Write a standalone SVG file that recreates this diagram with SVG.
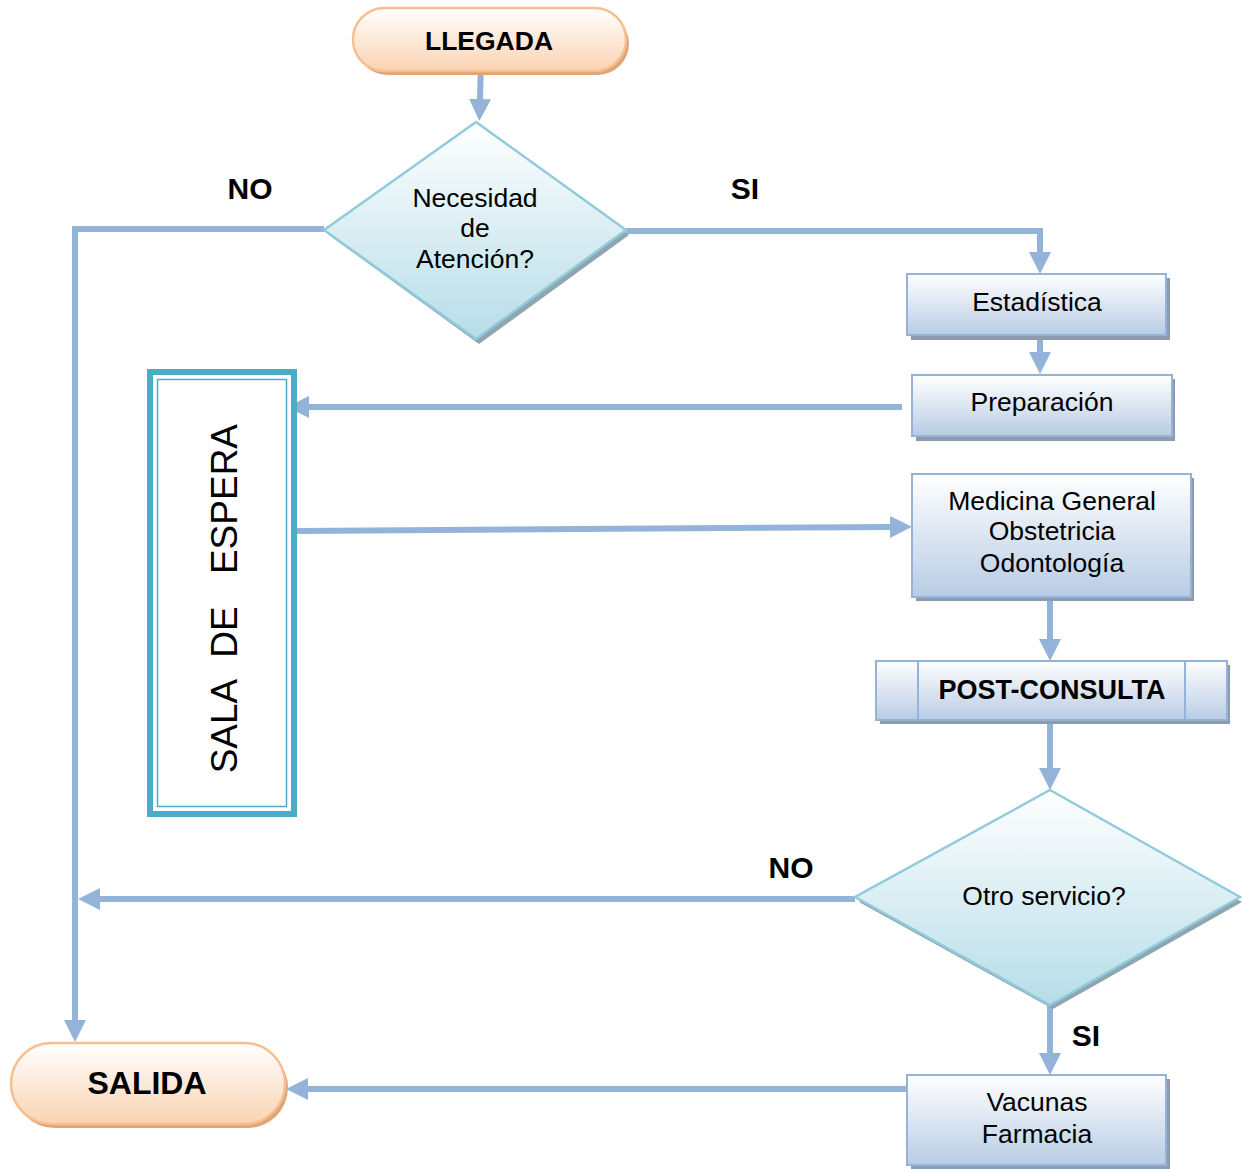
<svg xmlns="http://www.w3.org/2000/svg" width="1242" height="1169" viewBox="0 0 1242 1169">
<defs>
  <linearGradient id="gPill" x1="0" y1="0" x2="0" y2="1">
    <stop offset="0" stop-color="#FFFFFF"/>
    <stop offset="1" stop-color="#FAD3B2"/>
  </linearGradient>
  <linearGradient id="gBox" x1="0" y1="0" x2="0" y2="1">
    <stop offset="0" stop-color="#FFFFFF"/>
    <stop offset="1" stop-color="#B8CCE4"/>
  </linearGradient>
  <linearGradient id="gDia" x1="0" y1="0" x2="0" y2="1">
    <stop offset="0" stop-color="#FFFFFF"/>
    <stop offset="1" stop-color="#B6DDE8"/>
  </linearGradient>
  <marker id="ah" markerUnits="userSpaceOnUse" markerWidth="24" markerHeight="24" viewBox="0 0 24 24" refX="0" refY="12" orient="auto">
    <path d="M0,1 L22,12 L0,23 Z" fill="#94B3D8"/>
  </marker>
  <style>
    .con{fill:none;stroke:#94B3D8;stroke-width:6}
    .pill{fill:url(#gPill);stroke:#F9BE8E;stroke-width:2.5}
    .pillsh{fill:#DDA57A}
    .box{fill:url(#gBox);stroke:#95B3D7;stroke-width:2}
    .boxsh{fill:#8C9BAE}
    .dia{fill:url(#gDia);stroke:#8FCBDA;stroke-width:2.5}
    .diash{fill:#8FA5B0}
    .t{font-family:"Liberation Sans",Arial,sans-serif;fill:#000;text-anchor:middle}
    .n{font-size:26.5px}
    .b{font-weight:bold}
    .lab{font-weight:bold;font-size:30px}
  </style>
</defs>

<g id="connectors">
  <path class="con" d="M481,62 L480,99" marker-end="url(#ah)"/>
  <path class="con" d="M324,229 L75,229 L75,1020" marker-end="url(#ah)"/>
  <path class="con" d="M626,231 L1040,231 L1040,252" marker-end="url(#ah)"/>
  <path class="con" d="M1040,338 L1040,352" marker-end="url(#ah)"/>
  <path class="con" d="M902,407 L309,407" marker-end="url(#ah)"/>
  <path class="con" d="M297,531 L890,527" marker-end="url(#ah)"/>
  <path class="con" d="M1050,598 L1050,639" marker-end="url(#ah)"/>
  <path class="con" d="M1050,722 L1050,768" marker-end="url(#ah)"/>
  <path class="con" d="M855,899 L100,899" marker-end="url(#ah)"/>
  <path class="con" d="M1050,1005 L1050,1053" marker-end="url(#ah)"/>
  <path class="con" d="M907,1089 L308,1089" marker-end="url(#ah)"/>
</g>

<g id="llegada">
  <rect class="pillsh" x="356" y="12" width="273" height="63" rx="31.5"/>
  <rect class="pill" x="353" y="8" width="273" height="63" rx="31.5"/>
  <text class="t b" x="489" y="49.5" font-size="26.5">LLEGADA</text>
</g>

<g id="necesidad">
  <polygon class="diash" points="479,126 629,235 479,344 329,235"/>
  <polygon class="dia" points="476,122 626,230 476,339 324,230"/>
  <text class="t n" x="475" y="206.5">Necesidad</text>
  <text class="t n" x="475" y="237">de</text>
  <text class="t n" x="475" y="268">Atención?</text>
</g>

<g id="estadistica">
  <rect class="boxsh" x="911" y="278" width="259" height="62"/>
  <rect class="box" x="907" y="274" width="259" height="61"/>
  <text class="t n" x="1037" y="311">Estadística</text>
</g>

<g id="preparacion">
  <rect class="boxsh" x="916" y="379" width="259" height="62"/>
  <rect class="box" x="912" y="375" width="260" height="61"/>
  <text class="t n" x="1042" y="411">Preparación</text>
</g>

<g id="sala">
  <rect x="150" y="372" width="144" height="442" fill="#FFFFFF" stroke="#4BACC6" stroke-width="6"/>
  <rect x="157.5" y="379.5" width="129" height="427" fill="none" stroke="#4BACC6" stroke-width="1.5"/>
  <g class="t" font-size="37">
    <text x="0" y="0" transform="translate(237,726) rotate(-90)">SALA</text>
    <text x="0" y="0" transform="translate(237,632) rotate(-90)">DE</text>
    <text x="0" y="0" transform="translate(237,499) rotate(-90)">ESPERA</text>
  </g>
</g>

<g id="medicina">
  <rect class="boxsh" x="916" y="478" width="278" height="123"/>
  <rect class="box" x="912" y="474" width="279" height="123"/>
  <text class="t n" x="1052" y="510">Medicina General</text>
  <text class="t n" x="1052" y="540">Obstetricia</text>
  <text class="t n" x="1052" y="572">Odontología</text>
</g>

<g id="postconsulta">
  <rect class="boxsh" x="880" y="665" width="350" height="59"/>
  <rect class="box" x="876" y="661" width="351" height="59"/>
  <line x1="918" y1="661" x2="918" y2="720" stroke="#95B3D7" stroke-width="2"/>
  <line x1="1185" y1="661" x2="1185" y2="720" stroke="#95B3D7" stroke-width="2"/>
  <text class="t b" x="1052" y="699" font-size="27">POST-CONSULTA</text>
</g>

<g id="otro">
  <polygon class="diash" points="1053,795 1242,902 1053,1009 859,902"/>
  <polygon class="dia" points="1050,790 1240,897 1050,1005 855,897"/>
  <text class="t n" x="1044" y="905">Otro servicio?</text>
</g>

<g id="vacunas">
  <rect class="boxsh" x="911" y="1079" width="259" height="90"/>
  <rect class="box" x="907" y="1075" width="259" height="90"/>
  <text class="t n" x="1037" y="1111">Vacunas</text>
  <text class="t n" x="1037" y="1143">Farmacia</text>
</g>

<g id="salida">
  <rect class="pillsh" x="14" y="1047" width="274" height="81" rx="40.5"/>
  <rect class="pill" x="11" y="1043" width="274" height="81" rx="40.5"/>
  <text class="t b" x="147" y="1093.5" font-size="32">SALIDA</text>
</g>

<g id="labels">
  <text class="t lab" x="250" y="199">NO</text>
  <text class="t lab" x="745" y="199">SI</text>
  <text class="t lab" x="791" y="878">NO</text>
  <text class="t lab" x="1086" y="1046">SI</text>
</g>
</svg>
